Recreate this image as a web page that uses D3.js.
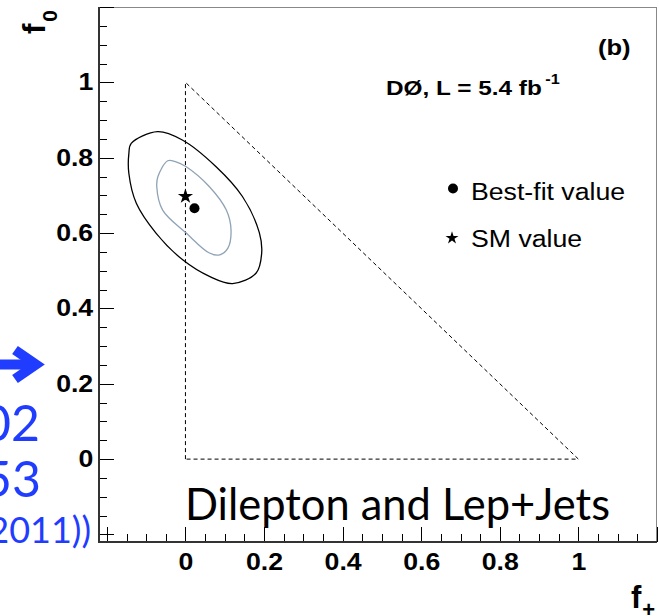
<!DOCTYPE html>
<html><head><meta charset="utf-8">
<script src="https://cdn.jsdelivr.net/npm/d3@7"></script>
<style>body{margin:0;background:#fff;} svg{display:block;}</style>
</head><body>
<svg id="c" width="659" height="616"></svg>
<script>
// ---- data ----
const majorTicks = [-0.2, 0, 0.2, 0.4, 0.6, 0.8, 1, 1.2];
const tickLabels = ["", "0", "0.2", "0.4", "0.6", "0.8", "1", ""];
const minorTicks = [-0.15, -0.1, -0.05, 0.05, 0.1, 0.15, 0.25, 0.3, 0.35, 0.45, 0.5, 0.55,
                    0.65, 0.7, 0.75, 0.85, 0.9, 0.95, 1.05, 1.1, 1.15];
// 68% (inner) and 95% (outer) contours in (f+, f0)
const outerContour = [[-0.144,0.811],[-0.138,0.838],[-0.071,0.869],[-0.008,0.847],[0.078,0.776],
  [0.145,0.697],[0.188,0.601],[0.194,0.547],[0.180,0.494],[0.120,0.466],[0.061,0.485],
  [-0.007,0.529],[-0.075,0.600],[-0.125,0.679],[-0.144,0.758]];
const innerContour = [[-0.045,0.792],[-0.024,0.789],[0.002,0.776],[0.061,0.723],[0.104,0.661],
  [0.116,0.608],[0.108,0.560],[0.087,0.542],[0.061,0.547],[0.002,0.600],[-0.058,0.661],
  [-0.073,0.723],[-0.070,0.750]];
const physicalRegion = [[0,0],[0,1],[1,0],[0,0]];
const bestFit = [0.023, 0.666];
const smValue = [0, 0.7];
const legendLabels = ["Best-fit value", "SM value"];

// ---- drawing ----
const svg = d3.select("#c");
const X = d3.scaleLinear().domain([-0.22, 1.2]).range([99, 657]);
const Y = d3.scaleLinear().domain([-0.22, 1.2]).range([542, 7]);
const SX = 1.16;
const ROOTF = "'Liberation Sans', Arial, Helvetica, sans-serif";
const GILL = "Lato, 'Open Sans', sans-serif";

// frame
svg.append("line").attr("x1",99).attr("x2",657).attr("y1",7.5).attr("y2",7.5).attr("stroke","#888").attr("stroke-width",1);
svg.append("line").attr("x1",656.5).attr("x2",656.5).attr("y1",7).attr("y2",542).attr("stroke","#888").attr("stroke-width",1);

// axes
function styleAxis(g){ g.select(".domain").remove(); g.selectAll("line").attr("stroke","#000").attr("shape-rendering","crispEdges"); }
const xMaj = svg.append("g").attr("transform","translate(0,542)")
  .call(d3.axisBottom(X).tickValues(majorTicks).tickSizeInner(-15).tickSizeOuter(0).tickPadding(12)
    .tickFormat((d,i)=>tickLabels[i]));
const xMin = svg.append("g").attr("transform","translate(0,542)")
  .call(d3.axisBottom(X).tickValues(minorTicks).tickSizeInner(-8).tickSizeOuter(0).tickFormat(""));
const yMaj = svg.append("g").attr("transform","translate(99,0)")
  .call(d3.axisLeft(Y).tickValues(majorTicks).tickSizeInner(-15).tickSizeOuter(0).tickPadding(5)
    .tickFormat((d,i)=>tickLabels[i]));
const yMin = svg.append("g").attr("transform","translate(99,0)")
  .call(d3.axisLeft(Y).tickValues(minorTicks).tickSizeInner(-8).tickSizeOuter(0).tickFormat(""));
[xMaj,xMin,yMaj,yMin].forEach(styleAxis);
[xMaj,yMaj].forEach(g=>g.selectAll("text").attr("font-family",ROOTF).attr("font-weight","bold")
  .attr("font-size",23).attr("fill","#000").attr("transform",`scale(${SX},1)`));
xMaj.selectAll("text").attr("dy","0.71em");

svg.append("line").attr("x1",99).attr("x2",99).attr("y1",7).attr("y2",543).attr("stroke","#333").attr("stroke-width",2);
svg.append("line").attr("x1",98).attr("x2",657).attr("y1",542).attr("y2",542).attr("stroke","#333").attr("stroke-width",2);

// physical region triangle
const line = d3.line().x(d=>X(d[0])).y(d=>Y(d[1]));
svg.append("path").attr("d", line(physicalRegion)).attr("fill","none").attr("stroke","#000")
  .attr("stroke-width",1).attr("stroke-dasharray","4,3");

// contours
const cl = d3.line().x(d=>X(d[0])).y(d=>Y(d[1])).curve(d3.curveCatmullRomClosed.alpha(0.5));
svg.append("path").attr("d", cl(outerContour)).attr("fill","none").attr("stroke","#000").attr("stroke-width",1.3);
svg.append("path").attr("d", cl(innerContour)).attr("fill","none").attr("stroke","#8ea3b6").attr("stroke-width",1.3);

// points
svg.append("circle").attr("cx",X(bestFit[0])).attr("cy",Y(bestFit[1])).attr("r",5).attr("fill","#000");
svg.append("path").attr("d", d3.symbol(d3.symbolStar, 72)()).attr("fill","#000")
  .attr("transform",`translate(${X(smValue[0])},${Y(smValue[1])+1})`);

// text helper
function txt(x, y, s, o={}){
  const t = svg.append("text").attr("transform",`translate(${x},${y}) scale(${o.sx||SX},1)`)
    .attr("font-family",o.family||ROOTF).attr("font-size",o.size||23)
    .attr("font-weight",o.weight||"normal").attr("fill",o.fill||"#000")
    .attr("text-anchor",o.anchor||"start").text(s);
  return t;
}

// legend
svg.append("circle").attr("cx",453).attr("cy",188.5).attr("r",5).attr("fill","#000");
svg.append("path").attr("d", d3.symbol(d3.symbolStar, 52)()).attr("fill","#000").attr("transform","translate(452,238)");
txt(471, 200, legendLabels[0], {size:23});
txt(471, 247, legendLabels[1], {size:23});

// labels
const lum = txt(386, 95, "DØ, L = 5.4 fb", {size:21, weight:"bold"});
lum.append("tspan").attr("font-size",14).attr("dx",3).attr("dy",-11).text("-1");
txt(598, 55, "(b)", {size:22, weight:"bold"});

// axis titles
const xt = txt(631, 608, "f", {size:31, weight:"bold", sx:1});
xt.append("tspan").attr("font-size",22).attr("dy",9).attr("dx",1).text("+");
const yt = svg.append("text").attr("transform","translate(45,34) rotate(-90)")
  .attr("font-family",ROOTF).attr("font-size",31).attr("font-weight","bold").text("f");
yt.append("tspan").attr("font-size",21).attr("dy",12).attr("dx",2).text("0");

// slide overlays
svg.append("text").attr("x",185).attr("y",520).attr("font-family",GILL).attr("font-size",45)
  .attr("textLength",425).attr("lengthAdjust","spacingAndGlyphs").attr("fill","#000").text("Dilepton and Lep+Jets");
const BLUE = "#1f3cff";
svg.append("line").attr("x1",-2).attr("x2",33).attr("y1",364.5).attr("y2",364.5).attr("stroke",BLUE).attr("stroke-width",10);
svg.append("path").attr("d","M15,350 L36,364.5 L15,379").attr("fill","none").attr("stroke",BLUE)
  .attr("stroke-width",10).attr("stroke-linejoin","miter");
svg.append("text").attr("x",40).attr("y",441).attr("text-anchor","end").attr("font-family",GILL)
  .attr("font-size",50).attr("fill",BLUE).text("02");
svg.append("text").attr("x",41).attr("y",497).attr("text-anchor","end").attr("font-family",GILL)
  .attr("font-size",50).attr("fill",BLUE).text("53");
svg.append("text").attr("x",91).attr("y",543).attr("text-anchor","end").attr("font-family",GILL)
  .attr("font-size",36).attr("fill",BLUE).text("(2011))");
</script>
</body></html>
